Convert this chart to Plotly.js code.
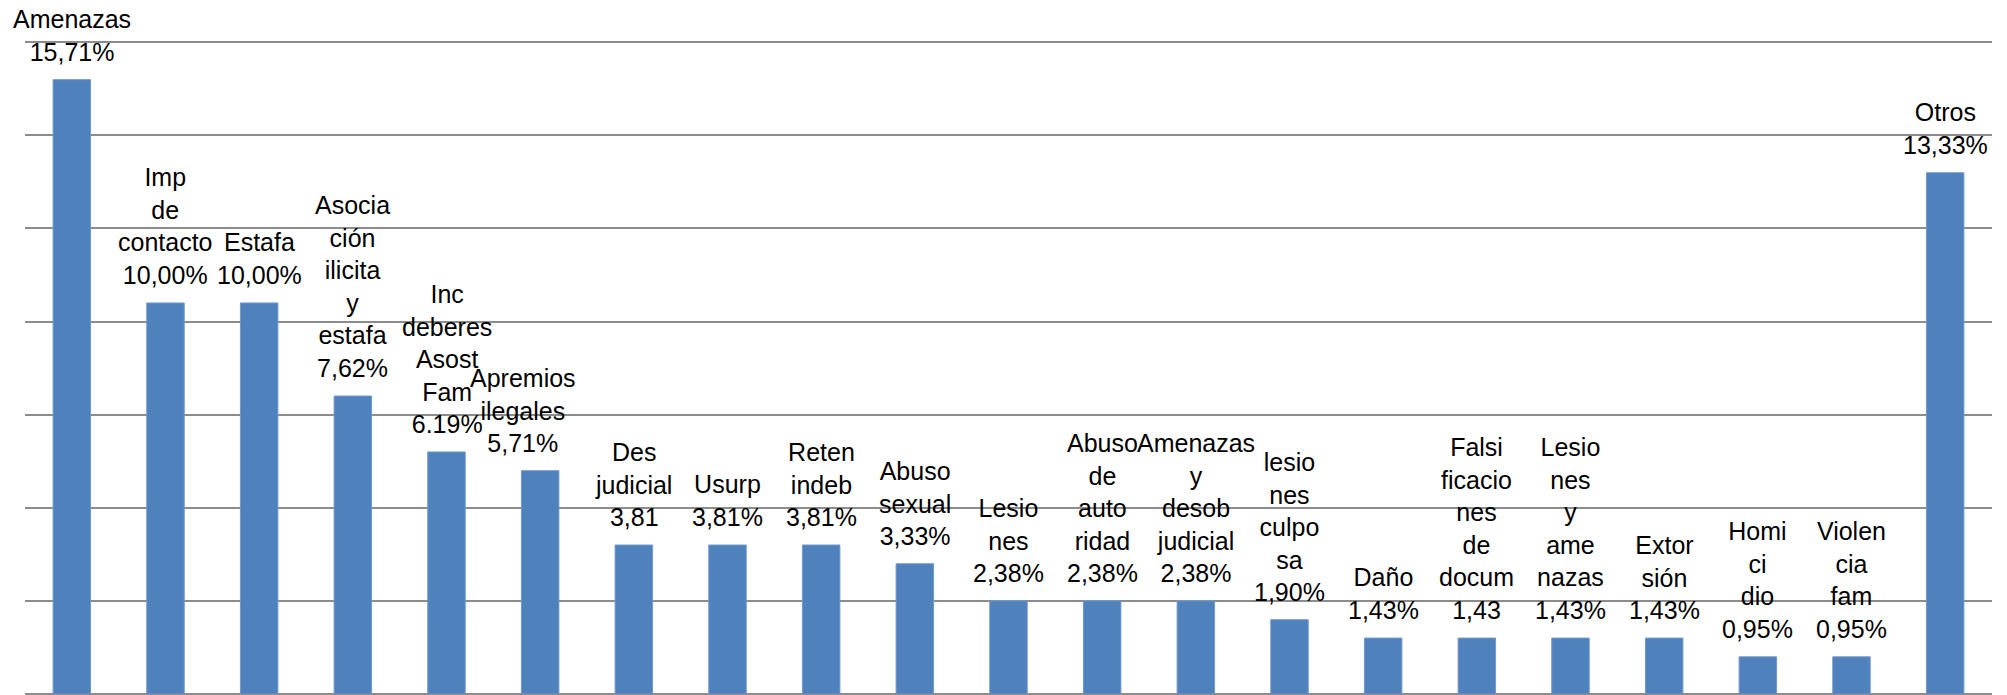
<!DOCTYPE html>
<html>
<head>
<meta charset="utf-8">
<script src="https://cdn.plot.ly/plotly-3.0.1.min.js"></script>
<style>
  html, body { margin: 0; padding: 0; background: #ffffff; }
  #chart { width: 2007px; height: 695px; }
</style>
</head>
<body>
<div id="chart"></div>
<script>
// Category names (as wrapped in the original labels)
var categories = [
  "Amenazas",
  "Imp<br>de<br>contacto",
  "Estafa",
  "Asocia<br>ción<br>ilicita<br>y<br>estafa",
  "Inc<br>deberes<br>Asost<br>Fam",
  "Apremios<br>ilegales",
  "Des<br>judicial",
  "Usurp",
  "Reten<br>indeb",
  "Abuso<br>sexual",
  "Lesio<br>nes",
  "Abuso<br>de<br>auto<br>ridad",
  "Amenazas<br>y<br>desob<br>judicial",
  "lesio<br>nes<br>culpo<br>sa",
  "Daño",
  "Falsi<br>ficacio<br>nes<br>de<br>docum",
  "Lesio<br>nes<br>y<br>ame<br>nazas",
  "Extor<br>sión",
  "Homi<br>ci<br>dio",
  "Violen<br>cia<br>fam",
  "Otros"
];

// Percentages
var values = [15.71, 10.00, 10.00, 7.62, 6.19, 5.71, 3.81, 3.81, 3.81, 3.33,
              2.38, 2.38, 2.38, 1.90, 1.43, 1.43, 1.43, 1.43, 0.95, 0.95, 13.33];

// Value labels exactly as printed
var valueLabels = ["15,71%", "10,00%", "10,00%", "7,62%", "6.19%", "5,71%", "3,81", "3,81%",
                   "3,81%", "3,33%", "2,38%", "2,38%", "2,38%", "1,90%", "1,43%", "1,43",
                   "1,43%", "1,43%", "0,95%", "0,95%", "13,33%"];

var xKeys = categories.map(function (c, i) { return "c" + i; });

var trace = {
  type: "bar",
  x: xKeys,
  y: values,
  marker: { color: "#4F81BD", line: { color: "#6f98cc", width: 1 } },
  hoverinfo: "skip"
};

var labelXShift = { 5: -17 };

var annotations = categories.map(function (c, i) {
  return {
    x: xKeys[i],
    y: values[i],
    xref: "x",
    yref: "y",
    text: c + "<br>" + valueLabels[i],
    showarrow: false,
    xanchor: "center",
    yanchor: "bottom",
    yshift: 12,
    xshift: labelXShift[i] || 0,
    align: "center",
    font: { family: "Liberation Sans, Arial, sans-serif", size: 25, color: "#000000" }
  };
});

var layout = {
  width: 2007,
  height: 695,
  margin: { l: 25, r: 15, t: 39, b: 1, pad: 0 },
  paper_bgcolor: "#ffffff",
  plot_bgcolor: "#ffffff",
  showlegend: false,
  bargap: 0.6,
  xaxis: {
    type: "category",
    range: [-0.5, 20.5],
    autorange: false,
    showticklabels: false,
    showgrid: false,
    zeroline: false,
    showline: false,
    ticks: ""
  },
  yaxis: {
    range: [0, 16.75],
    autorange: false,
    dtick: 2.38095,
    tick0: 0,
    showticklabels: false,
    showgrid: true,
    gridcolor: "#8c8c8c",
    gridwidth: 2,
    zeroline: true,
    zerolinecolor: "#8c8c8c",
    zerolinewidth: 2,
    showline: false,
    ticks: ""
  },
  annotations: annotations
};

Plotly.newPlot("chart", [trace], layout, { displayModeBar: false, staticPlot: true });
</script>
</body>
</html>
